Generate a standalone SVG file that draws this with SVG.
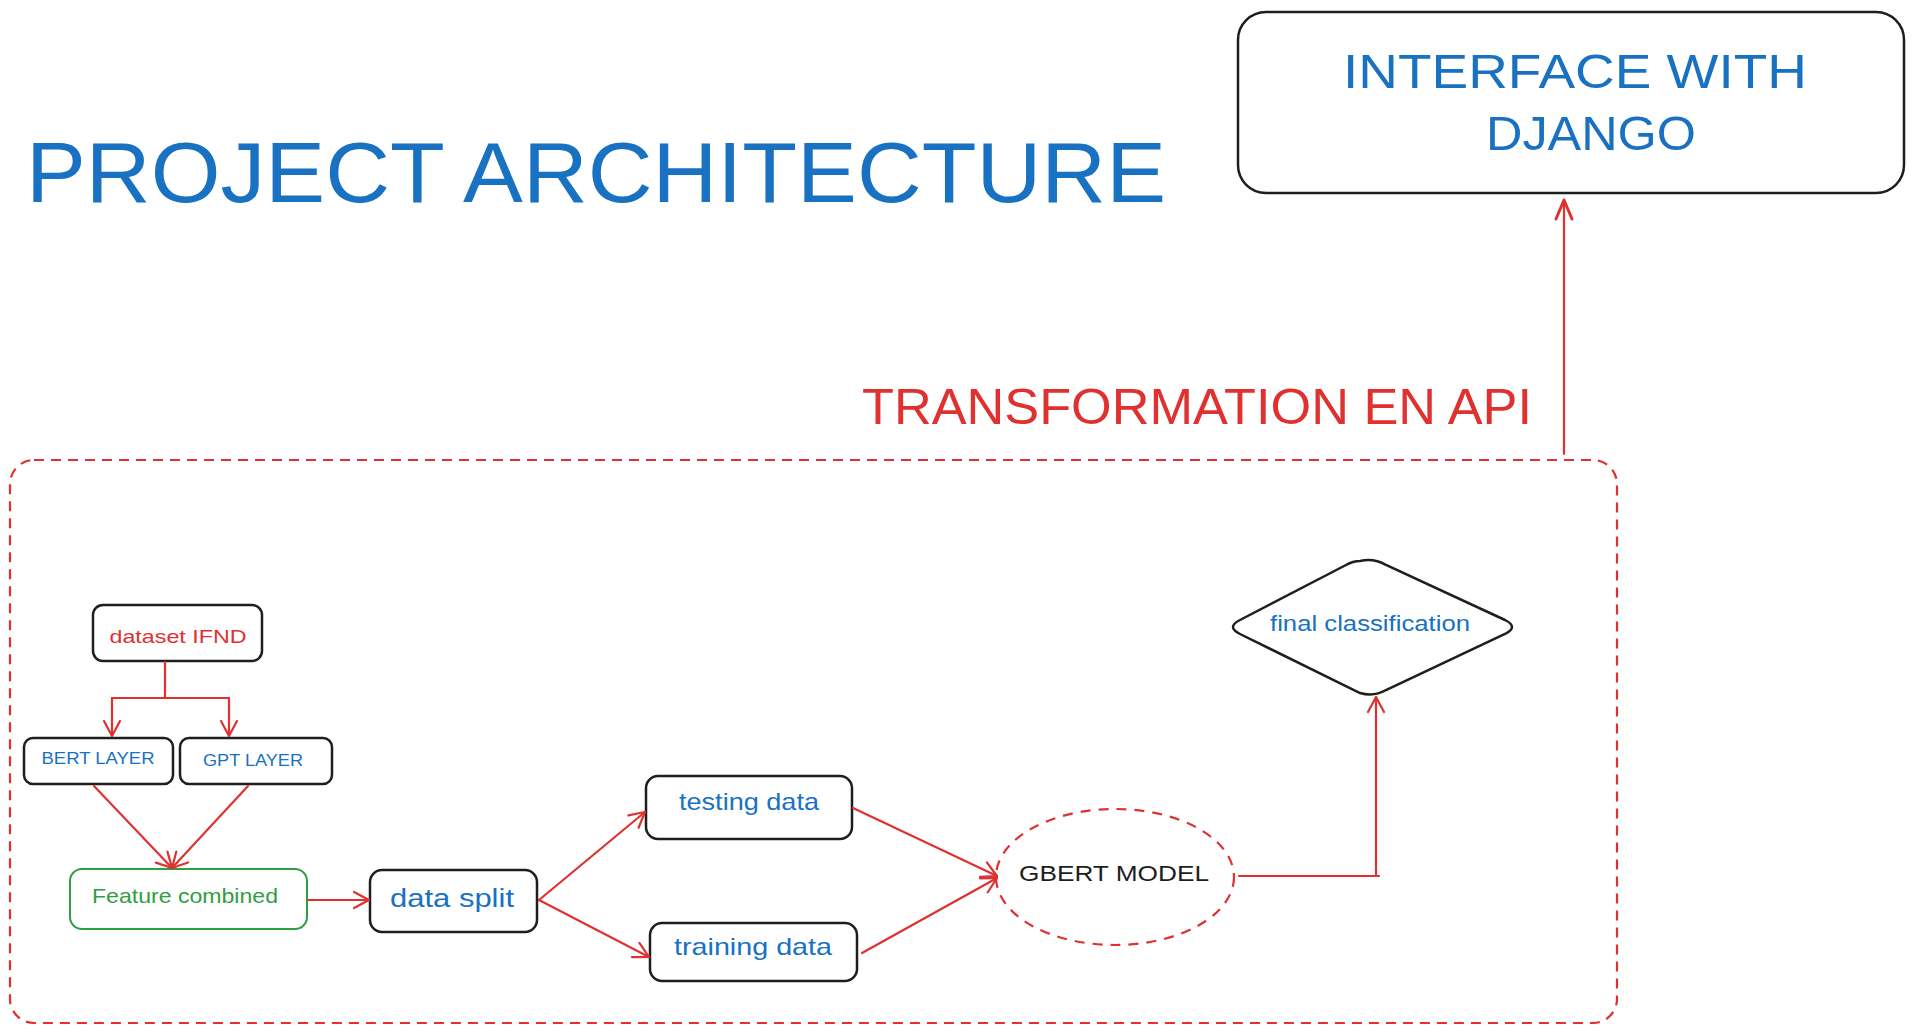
<svg xmlns="http://www.w3.org/2000/svg" width="1914" height="1034" viewBox="0 0 1914 1034">
<defs>
<marker id="ah" viewBox="0 0 20 20" refX="18" refY="10" markerWidth="20" markerHeight="20" markerUnits="userSpaceOnUse" orient="auto">
<path d="M3,2 L18,10 L3,18" fill="none" stroke="#e03131" stroke-width="2.2" stroke-linecap="round" stroke-linejoin="round"/>
</marker>
<marker id="ahb" viewBox="0 0 24 24" refX="22" refY="12" markerWidth="24" markerHeight="24" markerUnits="userSpaceOnUse" orient="auto">
<path d="M3,4 L22,12 L3,20" fill="none" stroke="#e03131" stroke-width="3" stroke-linecap="round" stroke-linejoin="round"/>
</marker>
</defs>
<style>
.box{fill:#ffffff;stroke:#1e1e1e;stroke-width:2.5}
.t{font-family:"Liberation Sans","DejaVu Sans",sans-serif;text-anchor:middle}
.blue{fill:#1971c2}
.red{fill:#e03131}
.green{fill:#2f9e44}
.black{fill:#1e1e1e}
.conn{fill:none;stroke:#e03131;stroke-width:2.2;stroke-linecap:round;stroke-linejoin:round}
</style>
<rect width="1914" height="1034" fill="#ffffff"/>

<g id="title">
<text class="t blue" x="596" y="202" font-size="86" textLength="1140" lengthAdjust="spacingAndGlyphs">PROJECT ARCHITECTURE</text>
</g>

<g id="container">
<rect x="10" y="460" width="1607" height="563" rx="24" fill="none" stroke="#e03131" stroke-width="2.2" stroke-dasharray="10 7"/>
</g>

<g id="label-api">
<text class="t red" x="1197" y="424" font-size="50" textLength="670" lengthAdjust="spacingAndGlyphs">TRANSFORMATION EN API</text>
</g>

<g id="django">
<rect class="box" x="1238" y="12" width="666" height="181" rx="28" stroke-width="3.5"/>
<text class="t blue" x="1575" y="88" font-size="48" textLength="464" lengthAdjust="spacingAndGlyphs">INTERFACE WITH</text>
<text class="t blue" x="1591" y="150" font-size="48" textLength="210" lengthAdjust="spacingAndGlyphs">DJANGO</text>
</g>

<g id="dataset">
<rect class="box" x="93" y="605" width="169" height="56" rx="10"/>
<text class="t red" x="178" y="643" font-size="19" textLength="137" lengthAdjust="spacingAndGlyphs">dataset IFND</text>
</g>

<g id="bert">
<rect class="box" x="24" y="738" width="149" height="46" rx="9"/>
<text class="t blue" x="98" y="764" font-size="16" textLength="113" lengthAdjust="spacingAndGlyphs">BERT LAYER</text>
</g>

<g id="gpt">
<rect class="box" x="180" y="738" width="152" height="46" rx="9"/>
<text class="t blue" x="253" y="766" font-size="16" textLength="100" lengthAdjust="spacingAndGlyphs">GPT LAYER</text>
</g>

<g id="feature">
<rect x="70" y="869" width="237" height="60" rx="12" fill="#ffffff" stroke="#2f9e44" stroke-width="2"/>
<text class="t green" x="185" y="903" font-size="21" textLength="186" lengthAdjust="spacingAndGlyphs">Feature combined</text>
</g>

<g id="datasplit">
<rect class="box" x="370" y="870" width="167" height="62" rx="12"/>
<text class="t blue" x="452" y="907" font-size="26" textLength="124" lengthAdjust="spacingAndGlyphs">data split</text>
</g>

<g id="testing">
<rect class="box" x="646" y="776" width="206" height="63" rx="12"/>
<text class="t blue" x="749" y="810" font-size="24" textLength="140" lengthAdjust="spacingAndGlyphs">testing data</text>
</g>

<g id="training">
<rect class="box" x="650" y="923" width="207" height="58" rx="12"/>
<text class="t blue" x="753" y="955" font-size="24" textLength="158" lengthAdjust="spacingAndGlyphs">training data</text>
</g>

<g id="gbert">
<ellipse cx="1115" cy="877" rx="119" ry="68" fill="none" stroke="#e03131" stroke-width="2.2" stroke-dasharray="10 8"/>
<text class="t black" x="1114" y="881" font-size="22" textLength="190" lengthAdjust="spacingAndGlyphs">GBERT MODEL</text>
</g>

<g id="final">
<path d="M1360,561 Q1374,558 1386,565 L1505,620 Q1519,627 1505,634 L1386,690 Q1374,697 1360,693 L1240,634 Q1226,627 1240,620 L1346,565 Q1353,561 1360,561 Z" fill="#ffffff" stroke="#1e1e1e" stroke-width="2.5"/>
<text class="t blue" x="1370" y="631" font-size="22" textLength="200" lengthAdjust="spacingAndGlyphs">final classification</text>
</g>

<g id="connectors">
<path class="conn" d="M165,662 L165,698"/>
<path class="conn" d="M112,698 L229,698"/>
<path class="conn" d="M112,698 L112,736" marker-end="url(#ah)"/>
<path class="conn" d="M229,698 L229,736" marker-end="url(#ah)"/>
<path class="conn" d="M94,786 L172,868" marker-end="url(#ah)"/>
<path class="conn" d="M248,786 L172,868" marker-end="url(#ah)"/>
<path class="conn" d="M308,900 L369,900" stroke-width="3" marker-end="url(#ah)"/>
<path class="conn" d="M539,900 L645,812" marker-end="url(#ah)"/>
<path class="conn" d="M539,900 L649,957" marker-end="url(#ah)"/>
<path class="conn" d="M853,808 L997,876" stroke-width="2.8" marker-end="url(#ah)"/>
<path class="conn" d="M862,953 L997,878" stroke-width="2.8" marker-end="url(#ah)"/>
<path class="conn" d="M1239,876 L1379,876 M1376,876 L1376,697" stroke-width="3" marker-end="url(#ah)"/>
<path class="conn" d="M1564,454 L1564,200" stroke-width="3.5" marker-end="url(#ahb)"/>
</g>
</svg>
